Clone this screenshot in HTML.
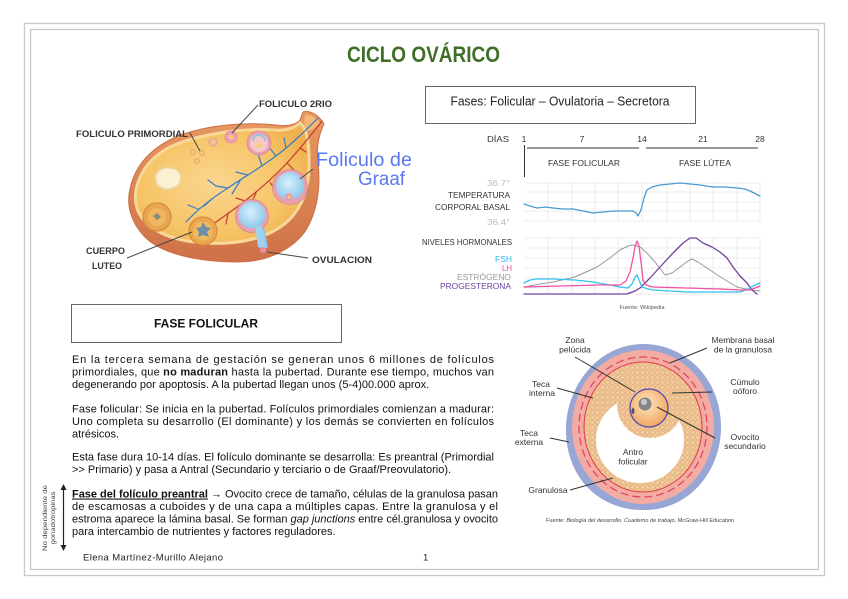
<!DOCTYPE html>
<html><head><meta charset="utf-8">
<style>
html,body{margin:0;padding:0;background:#fff;}
svg{display:block;}
</style></head>
<body>
<svg width="848" height="599" viewBox="0 0 848 599" xmlns="http://www.w3.org/2000/svg" font-family="'Liberation Sans', Arial, sans-serif">
<defs>
  <radialGradient id="face" cx="0.45" cy="0.5" r="0.6">
    <stop offset="0" stop-color="#fad690"/>
    <stop offset="0.7" stop-color="#f6c466"/>
    <stop offset="1" stop-color="#f0b050"/>
  </radialGradient>
  <linearGradient id="rim" x1="0" y1="0" x2="0" y2="1">
    <stop offset="0" stop-color="#e89a62"/>
    <stop offset="1" stop-color="#cf7048"/>
  </linearGradient>
  <radialGradient id="blue" cx="0.45" cy="0.4" r="0.6">
    <stop offset="0" stop-color="#d8f0fb"/>
    <stop offset="1" stop-color="#8cc8ec"/>
  </radialGradient>
  <radialGradient id="oo" cx="0.45" cy="0.4" r="0.6">
    <stop offset="0" stop-color="#fde6c0"/>
    <stop offset="1" stop-color="#f1a862"/>
  </radialGradient>
  <pattern id="gr" width="5" height="5" patternUnits="userSpaceOnUse">
    <rect width="5" height="5" fill="#eec28f"/>
    <circle cx="2.5" cy="2.5" r="1.7" fill="#f6d6ae" stroke="#d9a06c" stroke-width="0.5"/>
  </pattern>
</defs>
<rect width="848" height="599" fill="#fff"/>
<!-- page borders -->
<rect x="24.5" y="23.5" width="800" height="552" fill="none" stroke="#c8c8c8" stroke-width="1.3"/>
<rect x="30.5" y="29.5" width="788" height="540" fill="none" stroke="#c8c8c8" stroke-width="1.3"/>

<!-- Title -->
<text x="347" y="62" font-size="22" font-weight="bold" fill="#3f6e26" textLength="153" lengthAdjust="spacingAndGlyphs">CICLO OVÁRICO</text>

<!-- ===== Ovary illustration ===== -->
<g>
  <path d="M303,112 C309,110 318,114 324,124 C319,134 316,146 318,162 C321,188 317,214 304,233 C289,252 264,262 238,262 C198,262 164,254 147,239 C131,224 126,205 130,189 C135,165 152,146 181,135 C211,124 250,122 276,125 C288,127 297,124 300,120 Z" fill="url(#rim)" stroke="#cc6f45" stroke-width="1"/>
  <path d="M300,123 C306,128 309,140 309,158 C310,184 304,205 289,220 C270,238 240,245 205,243 C170,241 146,229 138,211 C130,191 141,162 170,147 C200,133 245,128 274,130 C286,131 295,128 300,123 Z" fill="url(#face)" stroke="#f8d898" stroke-width="3"/>
  <path d="M305,115 C311,114 317,118 320,123 C315,128 311,132 306,130 C304,126 304,120 305,115 Z" fill="#f3b878"/>
  <!-- vessels blue -->
  <g fill="none" stroke="#3b7cc4" stroke-width="1.2" stroke-linecap="round">
    <path d="M318,118 C306,130 292,144 276,156 C260,168 244,177 228,188 C212,198 198,209 186,222"/>
    <path d="M276,156 L268,146"/><path d="M262,166 L258,154"/><path d="M248,175 L236,172"/>
    <path d="M228,188 L216,186 L208,180"/><path d="M212,199 L204,206"/><path d="M198,209 L188,205"/>
    <path d="M286,148 L284,138"/><path d="M240,181 L232,194"/>
  </g>
  <!-- vessels red -->
  <g fill="none" stroke="#c83a30" stroke-width="1.2" stroke-linecap="round">
    <path d="M322,121 C311,135 299,150 287,163 C274,177 260,189 245,201 C232,211 220,219 208,228"/>
    <path d="M287,163 L294,170"/><path d="M270,182 L276,192"/><path d="M256,193 L250,206"/>
    <path d="M245,201 L236,198"/><path d="M228,213 L226,224"/><path d="M300,148 L306,152"/>
  </g>
  <!-- primordial follicles -->
  <g fill="#f8cc80" stroke="#e49a58" stroke-width="0.8">
    <circle cx="193" cy="152" r="2.3"/><circle cx="202" cy="153" r="2.3"/><circle cx="197" cy="161" r="2.3"/>
  </g>
  <circle cx="213" cy="142" r="4" fill="#f4b8a8" stroke="#e59a8a" stroke-width="0.8"/>
  <circle cx="213" cy="142" r="1.6" fill="#f8d070"/>
  <circle cx="231" cy="137" r="6" fill="#ee9fb0" stroke="#dd8898" stroke-width="0.8"/>
  <circle cx="231" cy="137" r="2.2" fill="#f8d070"/>
  <!-- secondary follicle -->
  <circle cx="259" cy="143" r="12" fill="#e99fae" stroke="#d98898" stroke-width="0.8"/>
  <circle cx="259" cy="143" r="9" fill="#f6c8c8"/>
  <path d="M253,141 A6,6 0 0 1 265,141" fill="none" stroke="#8cc4e6" stroke-width="1.8"/>
  <circle cx="259" cy="145" r="2.5" fill="#f8d070"/>
  <!-- Graaf follicle -->
  <circle cx="290" cy="187" r="17.5" fill="#e99fae" stroke="#d08894" stroke-width="0.8"/>
  <circle cx="290" cy="186" r="14" fill="url(#blue)"/>
  <circle cx="289" cy="197" r="4" fill="#ee9aae"/>
  <circle cx="289" cy="197" r="1.6" fill="#f8d070"/>
  <!-- ovulating follicle -->
  <path d="M256,226 L259,248 L268,248 L264,226 Z" fill="#8cc8ec"/>
  <circle cx="252" cy="216" r="16.5" fill="#e99fae" stroke="#d08894" stroke-width="0.8"/>
  <circle cx="252" cy="215" r="13.5" fill="url(#blue)"/>
  <path d="M255,226 L258,247 L266,247 L262,226 Z" fill="#9fd2f0"/>
  <circle cx="263" cy="250" r="3" fill="#ee8aa0"/>
  <!-- corpus albicans -->
  <path d="M158,172 C163,166 174,167 179,172 C183,178 180,186 173,188 C166,191 158,188 156,182 C155,178 155,175 158,172 Z" fill="#fbf1d2" stroke="#e8d7a3" stroke-width="1.5"/>
  <!-- corpus luteum 1 -->
  <circle cx="157" cy="217" r="14" fill="#e9a650" stroke="#d48c3e" stroke-width="1.2"/>
  <circle cx="157" cy="217" r="9" fill="#f0b660"/>
  <path d="M153,216 L157,213 L161,217 L157,220 Z" fill="#8a8a7a"/>
  <!-- corpus luteum 2 -->
  <circle cx="203" cy="231" r="14" fill="#eaa74e" stroke="#d48c3e" stroke-width="1.2"/>
  <circle cx="203" cy="231" r="9.5" fill="#f1b862"/>
  <path d="M196,228 L201,227 L203,222 L206,227 L211,228 L207,232 L209,237 L203,235 L198,237 L199,232 Z" fill="#6f8ea8"/>
  <!-- leader lines -->
  <g stroke="#444" stroke-width="1" fill="none">
    <path d="M258,105 L232,133"/>
    <path d="M190,133 L200,151"/>
    <path d="M313,169 L300,179"/>
    <path d="M127,258 L192,232"/>
    <path d="M267,252 L308,258"/>
  </g>
  <g font-weight="bold" fill="#333" font-size="9.5">
    <text x="259" y="107" textLength="73" lengthAdjust="spacingAndGlyphs">FOLICULO 2RIO</text>
    <text x="76" y="137" textLength="112" lengthAdjust="spacingAndGlyphs">FOLICULO PRIMORDIAL</text>
    <text x="86" y="254" textLength="39" lengthAdjust="spacingAndGlyphs">CUERPO</text>
    <text x="92" y="269" textLength="30" lengthAdjust="spacingAndGlyphs">LUTEO</text>
    <text x="312" y="263" textLength="60" lengthAdjust="spacingAndGlyphs">OVULACION</text>
  </g>
  <text x="316" y="166" font-size="19" fill="#5a78ee" textLength="96" lengthAdjust="spacingAndGlyphs">Foliculo de</text>
  <text x="358" y="185" font-size="19" fill="#5a78ee" textLength="47" lengthAdjust="spacingAndGlyphs">Graaf</text>
</g>

<!-- ===== Fases box ===== -->
<rect x="425.5" y="86.5" width="270" height="37" fill="#fff" stroke="#666" stroke-width="1"/>
<text x="560" y="105.5" font-size="12.5" text-anchor="middle" fill="#222" textLength="219" lengthAdjust="spacingAndGlyphs">Fases: Folicular – Ovulatoria – Secretora</text>

<!-- ===== Cycle chart ===== -->
<g font-size="8.5" fill="#333">
  <text x="509" y="142" text-anchor="end" textLength="22" lengthAdjust="spacingAndGlyphs">DÍAS</text>
  <text x="524" y="142" text-anchor="middle">1</text>
  <text x="582" y="142" text-anchor="middle">7</text>
  <text x="642" y="142" text-anchor="middle">14</text>
  <text x="703" y="142" text-anchor="middle">21</text>
  <text x="760" y="142" text-anchor="middle">28</text>
  <text x="584" y="166" text-anchor="middle" textLength="72" lengthAdjust="spacingAndGlyphs">FASE FOLICULAR</text>
  <text x="705" y="166" text-anchor="middle" textLength="52" lengthAdjust="spacingAndGlyphs">FASE LÚTEA</text>
</g>
<g stroke="#333" stroke-width="1">
  <line x1="527" y1="148" x2="639" y2="148"/>
  <line x1="646" y1="148" x2="758" y2="148"/>
  <line x1="524.5" y1="145" x2="524.5" y2="177"/>
</g>
<!-- temp grid -->
<g stroke="#e6e6e6" stroke-width="0.8">
  <line x1="524" y1="183" x2="760" y2="183"/><line x1="524" y1="192" x2="760" y2="192"/>
  <line x1="524" y1="202" x2="760" y2="202"/><line x1="524" y1="211" x2="760" y2="211"/>
  <line x1="524" y1="221" x2="760" y2="221"/>
  <line x1="548" y1="183" x2="548" y2="221"/><line x1="572" y1="183" x2="572" y2="221"/>
  <line x1="595" y1="183" x2="595" y2="221"/><line x1="618" y1="183" x2="618" y2="221"/>
  <line x1="642" y1="183" x2="642" y2="221"/><line x1="667" y1="183" x2="667" y2="221"/>
  <line x1="690" y1="183" x2="690" y2="221"/><line x1="713" y1="183" x2="713" y2="221"/>
  <line x1="737" y1="183" x2="737" y2="221"/><line x1="760" y1="183" x2="760" y2="221"/>
</g>
<!-- hormone grid -->
<g stroke="#e6e6e6" stroke-width="0.8">
  <line x1="524" y1="238" x2="760" y2="238"/><line x1="524" y1="248" x2="760" y2="248"/>
  <line x1="524" y1="258" x2="760" y2="258"/><line x1="524" y1="268" x2="760" y2="268"/>
  <line x1="524" y1="278" x2="760" y2="278"/><line x1="524" y1="288" x2="760" y2="288"/>
  <line x1="524" y1="294" x2="760" y2="294"/>
  <line x1="548" y1="238" x2="548" y2="294"/><line x1="572" y1="238" x2="572" y2="294"/>
  <line x1="595" y1="238" x2="595" y2="294"/><line x1="618" y1="238" x2="618" y2="294"/>
  <line x1="642" y1="238" x2="642" y2="294"/><line x1="667" y1="238" x2="667" y2="294"/>
  <line x1="690" y1="238" x2="690" y2="294"/><line x1="713" y1="238" x2="713" y2="294"/>
  <line x1="737" y1="238" x2="737" y2="294"/><line x1="760" y1="238" x2="760" y2="294"/>
</g>
<g font-size="8" text-anchor="end">
  <text x="510" y="186" fill="#bbb" textLength="23" lengthAdjust="spacingAndGlyphs">36.7°</text>
  <text x="510" y="198" fill="#333" textLength="62" lengthAdjust="spacingAndGlyphs">TEMPERATURA</text>
  <text x="510" y="210" fill="#333" textLength="75" lengthAdjust="spacingAndGlyphs">CORPORAL BASAL</text>
  <text x="510" y="225" fill="#bbb" textLength="23" lengthAdjust="spacingAndGlyphs">36.4°</text>
  <text x="512" y="245" fill="#333" textLength="90" lengthAdjust="spacingAndGlyphs">NIVELES HORMONALES</text>
  <text x="512" y="262" fill="#2bb8ee" textLength="17" lengthAdjust="spacingAndGlyphs">FSH</text>
  <text x="512" y="271" fill="#ee4fa0" textLength="10" lengthAdjust="spacingAndGlyphs">LH</text>
  <text x="511" y="280" fill="#999" textLength="54" lengthAdjust="spacingAndGlyphs">ESTRÓGENO</text>
  <text x="511" y="289" fill="#6a3ea0" textLength="71" lengthAdjust="spacingAndGlyphs">PROGESTERONA</text>
</g>
<g fill="none" stroke-width="1.3" stroke-linejoin="round" stroke-linecap="round">
  <polyline stroke="#4a9ad2" points="524,204 530,206 537,208 545,207 553,208 563,209 573,209 583,211 593,213 603,212 613,211 623,211 633,211 636,213 638,216 641,210 644,198 647,190 652,187 660,185 670,184 680,183 690,184 700,185 713,187 725,187 737,188 745,189 750,191 756,194 760,196"/>
  <polyline stroke="#999" stroke-width="1" points="524,287 540,284 553,282 575,277 597,267 610,258 620,250 628,246 633,245 640,247 647,253 655,262 665,275 672,273 680,267 688,261 692,259 698,262 710,270 722,278 737,287 750,290 760,291"/>
  <polyline stroke="#7040a0" points="524,294 627,294 635,291 640,288 650,278 660,267 673,253 683,243 690,238 696,238 703,243 712,247 720,252 727,258 733,267 740,276 747,283 752,290 757,294"/>
  <polyline stroke="#33c2f0" points="524,283 530,280 537,279 553,279 575,280 593,282 610,285 620,287 628,288 632,284 635,277 637,275 639,280 642,287 648,289 653,290 670,291 687,292 710,292 740,292 748,289 753,286 760,283"/>
  <polyline stroke="#f052a2" points="524,287 560,286 600,285 620,285 626,281 630,272 633,258 635,247 637,241 639,246 641,262 643,280 646,285 653,287 687,288 720,289 740,290 750,290 755,288 760,286"/>
</g>
<text x="642" y="309" font-size="5.5" fill="#555" text-anchor="middle" textLength="45" lengthAdjust="spacingAndGlyphs">Fuente: Wikipedia</text>

<!-- ===== FASE FOLICULAR box ===== -->
<rect x="71.5" y="304.5" width="270" height="38" fill="#fff" stroke="#666" stroke-width="1"/>
<text x="206" y="327.5" font-size="12" font-weight="bold" text-anchor="middle" fill="#111">FASE FOLICULAR</text>

<!-- ===== Paragraphs ===== -->
<g font-size="11" fill="#111">
  <text x="72" y="363" textLength="422" lengthAdjust="spacing">En la tercera semana de gestación se generan unos 6 millones de folículos</text>
  <text x="72" y="375.5" textLength="422" lengthAdjust="spacing">primordiales, que <tspan font-weight="bold">no maduran</tspan> hasta la pubertad. Durante ese tiempo, muchos van</text>
  <text x="72" y="388">degenerando por apoptosis. A la pubertad llegan unos (5-4)00.000 aprox.</text>

  <text x="72" y="412.5" textLength="422" lengthAdjust="spacing">Fase folicular: Se inicia en la pubertad. Folículos primordiales comienzan a madurar:</text>
  <text x="72" y="425" textLength="422" lengthAdjust="spacing">Uno completa su desarrollo (El dominante) y los demás se convierten en folículos</text>
  <text x="72" y="437.5">atrésicos.</text>

  <text x="72" y="460.5" textLength="422" lengthAdjust="spacing">Esta fase dura 10-14 días. El folículo dominante se desarrolla: Es preantral (Primordial</text>
  <text x="72" y="473">&gt;&gt; Primario) y pasa a Antral (Secundario y terciario o de Graaf/Preovulatorio).</text>

  <text x="72" y="497.5" textLength="426" lengthAdjust="spacing"><tspan font-weight="bold" text-decoration="underline">Fase del folículo preantral</tspan> → Ovocito crece de tamaño, células de la granulosa pasan</text>
  <text x="72" y="510" textLength="426" lengthAdjust="spacing">de escamosas a cuboides y de una capa a múltiples capas. Entre la granulosa y el</text>
  <text x="72" y="522.5" textLength="426" lengthAdjust="spacing">estroma aparece la lámina basal. Se forman <tspan font-style="italic">gap junctions</tspan> entre cél.granulosa y ovocito</text>
  <text x="72" y="535">para intercambio de nutrientes y factores reguladores.</text>
</g>
<!-- vertical note + arrow -->
<g font-size="6.3" fill="#444" text-anchor="middle">
  <text transform="translate(47,518) rotate(-90)" textLength="66" lengthAdjust="spacingAndGlyphs">No dependiente de</text>
  <text transform="translate(55,518) rotate(-90)" textLength="53" lengthAdjust="spacingAndGlyphs">gonadotropinas</text>
</g>
<line x1="63.5" y1="489" x2="63.5" y2="546" stroke="#222" stroke-width="1.2"/>
<path d="M60.5,490 L63.5,484 L66.5,490 Z" fill="#222"/>
<path d="M60.5,545 L63.5,551 L66.5,545 Z" fill="#222"/>

<!-- footer -->
<text x="83" y="560.5" font-size="9.5" fill="#222" textLength="140" lengthAdjust="spacing">Elena Martínez-Murillo Alejano</text>
<text x="423" y="560.5" font-size="9.5" fill="#222">1</text>

<!-- ===== Follicle illustration ===== -->
<g>
  <path d="M643,344 C685,344 720,378 721,425 C722,470 690,510 645,510 C600,511 566,478 566,430 C566,384 600,344 643,344 Z" fill="#97a6d4"/>
  <ellipse cx="643" cy="427" rx="71" ry="77" fill="#f3aca3"/>
  <ellipse cx="643" cy="427" rx="64" ry="70" fill="none" stroke="#e2485a" stroke-width="1.3" stroke-dasharray="8 4"/>
  <ellipse cx="643" cy="427" rx="59" ry="65" fill="url(#gr)" stroke="#e03a48" stroke-width="1"/>
  <ellipse cx="640" cy="440" rx="44" ry="43" fill="#fff"/>
  <circle cx="650" cy="405" r="33" fill="url(#gr)"/>
  <circle cx="649" cy="408" r="19" fill="url(#oo)" stroke="#5a48b0" stroke-width="1.3"/>
  <circle cx="645" cy="404" r="6.5" fill="#858585"/>
  <circle cx="644" cy="402" r="3" fill="#c8c8c8"/>
  <ellipse cx="633" cy="411" rx="1.5" ry="3" fill="#556"/>
  <g stroke="#333" stroke-width="1" fill="none">
    <path d="M575,357 L635,392"/>
    <path d="M707,348 L670,363"/>
    <path d="M712,392 L672,393"/>
    <path d="M715,438 L657,407"/>
    <path d="M557,388 L593,398"/>
    <path d="M550,438 L569,442"/>
    <path d="M570,490 L613,478"/>
  </g>
  <g font-size="8.5" fill="#333" text-anchor="middle">
    <text x="575" y="343">Zona</text>
    <text x="575" y="352.5">pelúcida</text>
    <text x="743" y="343" textLength="63" lengthAdjust="spacingAndGlyphs">Membrana basal</text>
    <text x="743" y="352.5">de la granulosa</text>
    <text x="745" y="385">Cúmulo</text>
    <text x="745" y="394">oóforo</text>
    <text x="745" y="440">Ovocito</text>
    <text x="745" y="449">secundario</text>
    <text x="541" y="387">Teca</text>
    <text x="542" y="396">interna</text>
    <text x="529" y="436">Teca</text>
    <text x="529" y="445">externa</text>
    <text x="633" y="455">Antro</text>
    <text x="633" y="464.5">folicular</text>
    <text x="548" y="493">Granulosa</text>
  </g>
  <text x="640" y="522" font-size="5.5" fill="#444" text-anchor="middle" textLength="188" lengthAdjust="spacingAndGlyphs">Fuente: <tspan font-style="italic">Biología del desarrollo. Cuaderno de trabajo</tspan>, McGraw-Hill Education</text>
</g>
</svg>
</body></html>
